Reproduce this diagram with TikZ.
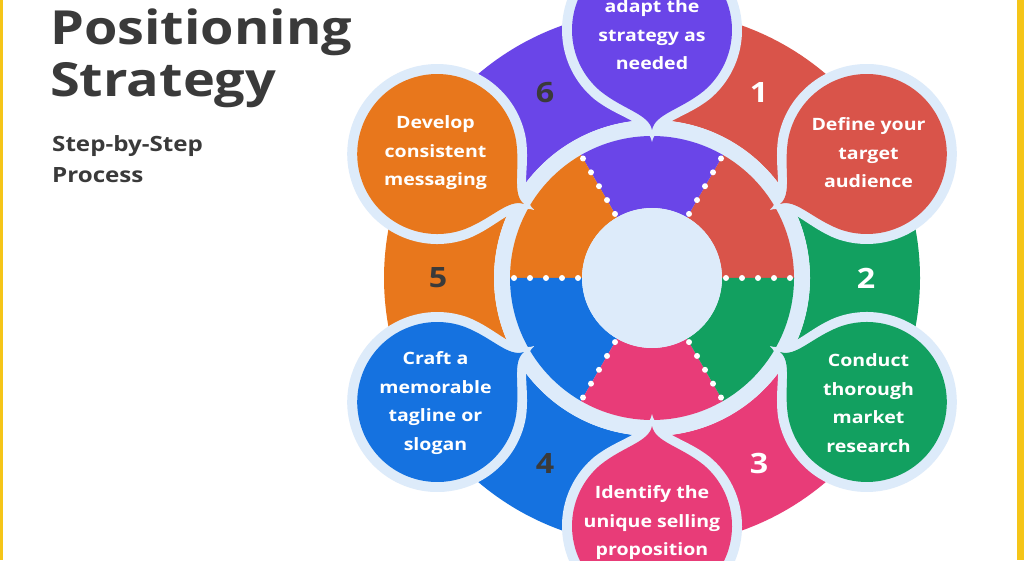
\documentclass[tikz,border=0pt]{standalone}
\usepackage{fontspec}
\usetikzlibrary{calc}
\setmainfont{Open Sans}[FakeStretch=1.15]
\definecolor{cred}{HTML}{D9544A}
\definecolor{cpur}{HTML}{6A45E8}
\definecolor{cora}{HTML}{E8771C}
\definecolor{cblu}{HTML}{1572E0}
\definecolor{cpin}{HTML}{E83C78}
\definecolor{cgre}{HTML}{12A060}
\definecolor{lblue}{HTML}{DDEBFA}
\definecolor{dtext}{HTML}{3A3A3A}
\definecolor{ybord}{HTML}{F5C518}
\tikzset{
 btext/.style={text=white,font=\bfseries\fontsize{17}{28.5}\selectfont,align=center},
 numtext/.style={text=white,font=\bfseries\fontsize{28}{30}\selectfont},
 numtextd/.style={text=dtext,font=\bfseries\fontsize{28}{30}\selectfont},
 sep/.style={white,line width=6pt,line cap=round,dash pattern=on 0pt off 16pt}
}
\newcommand{\bubble}[2]{% angle, color
 \begin{scope}[shift={(652,282)},rotate=#1,shift={(248,0)}]
  \fill[lblue] (-112,0) .. controls (-92,4) and (-88,34) .. (140:90) arc[start angle=140,end angle=-140,radius=90] .. controls (-88,-34) and (-92,-4) .. cycle;
  \fill[#2] (-100,0) .. controls (-84,3) and (-80,28) .. (140:80) arc[start angle=140,end angle=-140,radius=80] .. controls (-80,-28) and (-84,-3) .. cycle;
 \end{scope}}
\begin{document}
\begin{tikzpicture}[x=1pt,y=1pt]
\useasboundingbox (0,0) rectangle (1024,560);
\clip (0,0) rectangle (1024,560);
\fill[white] (0,0) rectangle (1024,560);
\fill[ybord] (1017,0) rectangle (1024,560);
\fill[ybord] (0,0) rectangle (3,560);
\coordinate (c) at (652,282);
% outer segments
\foreach \a/\col in {60/cred,0/cgre,-60/cpin,-120/cblu,180/cora,120/cpur}{
 \fill[\col] ($(c)+(\a-30:158)$) arc[start angle=\a-30,end angle=\a+30,radius=158] -- ($(c)+(\a+30:268)$) arc[start angle=\a+30,end angle=\a-30,radius=268] -- cycle;
}
\fill[lblue] (c) circle (158);
% inner ring
\foreach \a/\col in {0/cred,60/cpur,120/cora,180/cblu,240/cpin,300/cgre}{
 \fill[\col] ($(c)+(\a:70)$) arc[start angle=\a,end angle=\a+60,radius=70] -- ($(c)+(\a+60:142)$) arc[start angle=\a+60,end angle=\a,radius=142] -- cycle;
}
\fill[lblue] (c) circle (70);
\foreach \a in {0,60,...,300}{
 \draw[sep] ($(c)+(\a:74)$) -- ($(c)+(\a:142)$);
}
% bubbles
\bubble{90}{cpur}
\bubble{30}{cred}
\bubble{-30}{cgre}
\bubble{-90}{cpin}
\bubble{-150}{cblu}
\bubble{150}{cora}
% numbers
\node[numtext] (n1) at ($(c)+(60:214)$) {1};
\node[numtext] (n2) at ($(c)+(0:214)$) {2};
\node[numtext] (n3) at ($(c)+(-60:214)$) {3};
\node[numtextd] (n4) at ($(c)+(-120:214)$) {4};
\node[numtextd] (n5) at ($(c)+(180:214)$) {5};
\node[numtextd] (n6) at ($(c)+(120:214)$) {6};
% bubble texts
\node[btext] (t6) at ($(c)+(90:243)$) {adapt the\\strategy as\\needed};
\node[btext] (t1) at ($(c)+(30:250)$) {Define your\\target\\audience};
\node[btext] (t2) at ($(c)+(-30:250)$) {Conduct\\thorough\\market\\research};
\node[btext] (t3) at ($(c)+(-90:245)$) {Identify the\\unique selling\\proposition};
\node[btext] (t4) at ($(c)+(-150:250)$) {Craft a\\memorable\\tagline or\\slogan};
\node[btext] (t5) at ($(c)+(150:250)$) {Develop\\consistent\\messaging};
% titles
\node[anchor=base west,text=dtext,font=\bfseries\fontsize{47}{50}\selectfont,inner sep=0] (ti1) at (50,515) {Positioning};
\node[anchor=base west,text=dtext,font=\bfseries\fontsize{47}{50}\selectfont,inner sep=0] (ti2) at (50,463) {Strategy};
\node[anchor=base west,text=dtext,font=\bfseries\fontsize{21}{24}\selectfont,inner sep=0] (s1) at (52,408) {Step-by-Step};
\node[anchor=base west,text=dtext,font=\bfseries\fontsize{21}{24}\selectfont,inner sep=0] (s2) at (52,377) {Process};
\end{tikzpicture}
\end{document}
